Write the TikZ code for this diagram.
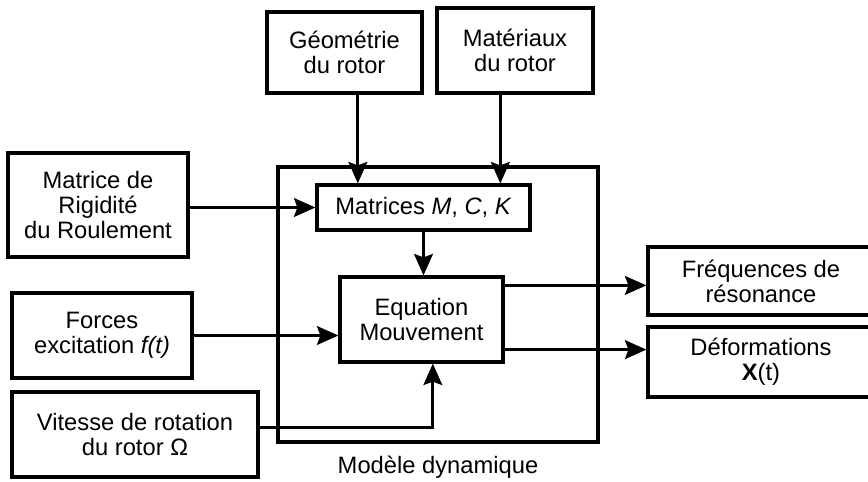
\documentclass[tikz,border=0pt]{standalone}
\usepackage{fontspec}
\setmainfont{Liberation Sans}
\usetikzlibrary{arrows.meta,positioning,calc}

\begin{document}
\begin{tikzpicture}[
  x=0.75pt, y=-0.75pt,
  font=\fontsize{17.8pt}{18.8pt}\selectfont,
  sz/.style 2 args={minimum width=#1*0.75pt, minimum height=#2*0.75pt},
  box/.style={draw, line width=2.4pt, fill=white, align=center, inner sep=0pt},
  frame/.style={draw, line width=2.4pt, inner sep=0pt},
  arr/.style={-{Stealth[length=16pt, width=14pt, inset=2.5pt]}, line width=2.4pt}
]
\useasboundingbox (0,0) rectangle (868,482);

% model frame
\node[frame, sz={320}{275}] (dyn) at (438, 304.5) {};
\node[anchor=north] (dynlbl) at ($(dyn.south) + (0,8)$) {Modèle dynamique};

% inputs
\node[box, sz={155}{81}]  (geo) at (344.5, 52.5) {Géométrie\\du rotor};
\node[box, sz={156}{85}]  (mat) at (515, 50.5)   {Matériaux\\du rotor};
\node[box, sz={180}{104}] (rig) at (98, 205)     {Matrice de\\Rigidité\\du Roulement};
\node[box, sz={180}{85}]  (frc) at (102, 335.5)  {Forces\\excitation \textit{f(t)}};
\node[box, sz={246}{85}]  (vit) at (135, 434.5)  {Vitesse de rotation\\du rotor Ω};

% inside the model
\node[box, sz={213}{45}] (mats) at (423.5, 207.5) {Matrices \textit{M}, \textit{C}, \textit{K}};
\node[box, sz={163}{85}] (eqn)  at (421.5, 319.5) {Equation\\Mouvement};

% outputs
\node[box, sz={226}{68}] (freq) at (761, 281) {Fréquences de\\résonance};
\node[box, sz={226}{70}] (def)  at (761, 362) {Déformations\\\textbf{X}(t)};

\draw[arr] ([xshift=10pt]geo.south) -- ([xshift=10pt]geo.south |- mats.north);
\draw[arr] ([xshift=-11pt]mat.south) -- ([xshift=-11pt]mat.south |- mats.north);
\draw[arr] (rig.east |- mats.west) -- (mats.west);
\draw[arr] (mats.south) -- (mats.south |- eqn.north);
\draw[arr] (frc.east) -- (frc.east -| eqn.west);
\draw[arr] ([yshift=5.5pt]vit.east) -| ([xshift=8.5pt]eqn.south);

\draw[arr] ([yshift=-7.5pt]eqn.north east) -- ([yshift=-7.5pt]eqn.north east -| freq.west);
\draw[arr] ([yshift=10.5pt]eqn.south east) -- ([yshift=10.5pt]eqn.south east -| def.west);

\end{tikzpicture}
\end{document}
